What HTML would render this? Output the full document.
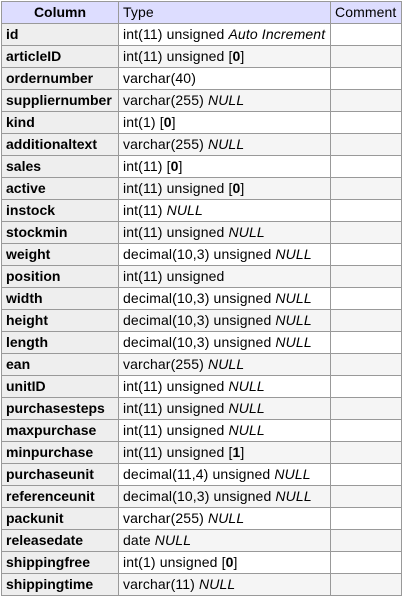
<!DOCTYPE html>
<html><head><style>
html,body{margin:0;padding:0;background:#fff;}
table{position:absolute;left:1px;top:1px;border-collapse:collapse;font-family:"Liberation Sans",Arial,sans-serif;font-size:14px;color:#000;table-layout:fixed;}
td,th{border:1px solid #999;height:21px;padding:0 4px;white-space:nowrap;overflow:hidden;line-height:21px;text-align:left;vertical-align:middle;}
td{letter-spacing:0.13px;}
thead th{background:#ddf;font-weight:normal;letter-spacing:0.1px;}
thead th:first-child{font-weight:bold;text-align:center;letter-spacing:0;}
tbody th{background:#eee;font-weight:bold;}
tbody tr:nth-child(even) td{background:#f5f5f5;}
</style></head><body>
<table>
<colgroup><col style="width:117px"><col style="width:212px"><col style="width:71px"></colgroup>
<thead><tr><th>Column</th><th>Type</th><th>Comment</th></tr></thead>
<tbody>
<tr><th>id</th><td>int(11) unsigned <i>Auto Increment</i></td><td></td></tr>
<tr><th>articleID</th><td>int(11) unsigned [<b>0</b>]</td><td></td></tr>
<tr><th>ordernumber</th><td>varchar(40)</td><td></td></tr>
<tr><th>suppliernumber</th><td>varchar(255) <i>NULL</i></td><td></td></tr>
<tr><th>kind</th><td>int(1) [<b>0</b>]</td><td></td></tr>
<tr><th>additionaltext</th><td>varchar(255) <i>NULL</i></td><td></td></tr>
<tr><th>sales</th><td>int(11) [<b>0</b>]</td><td></td></tr>
<tr><th>active</th><td>int(11) unsigned [<b>0</b>]</td><td></td></tr>
<tr><th>instock</th><td>int(11) <i>NULL</i></td><td></td></tr>
<tr><th>stockmin</th><td>int(11) unsigned <i>NULL</i></td><td></td></tr>
<tr><th>weight</th><td>decimal(10,3) unsigned <i>NULL</i></td><td></td></tr>
<tr><th>position</th><td>int(11) unsigned</td><td></td></tr>
<tr><th>width</th><td>decimal(10,3) unsigned <i>NULL</i></td><td></td></tr>
<tr><th>height</th><td>decimal(10,3) unsigned <i>NULL</i></td><td></td></tr>
<tr><th>length</th><td>decimal(10,3) unsigned <i>NULL</i></td><td></td></tr>
<tr><th>ean</th><td>varchar(255) <i>NULL</i></td><td></td></tr>
<tr><th>unitID</th><td>int(11) unsigned <i>NULL</i></td><td></td></tr>
<tr><th>purchasesteps</th><td>int(11) unsigned <i>NULL</i></td><td></td></tr>
<tr><th>maxpurchase</th><td>int(11) unsigned <i>NULL</i></td><td></td></tr>
<tr><th>minpurchase</th><td>int(11) unsigned [<b>1</b>]</td><td></td></tr>
<tr><th>purchaseunit</th><td>decimal(11,4) unsigned <i>NULL</i></td><td></td></tr>
<tr><th>referenceunit</th><td>decimal(10,3) unsigned <i>NULL</i></td><td></td></tr>
<tr><th>packunit</th><td>varchar(255) <i>NULL</i></td><td></td></tr>
<tr><th>releasedate</th><td>date <i>NULL</i></td><td></td></tr>
<tr><th>shippingfree</th><td>int(1) unsigned [<b>0</b>]</td><td></td></tr>
<tr><th>shippingtime</th><td>varchar(11) <i>NULL</i></td><td></td></tr>
</tbody></table>
</body></html>
